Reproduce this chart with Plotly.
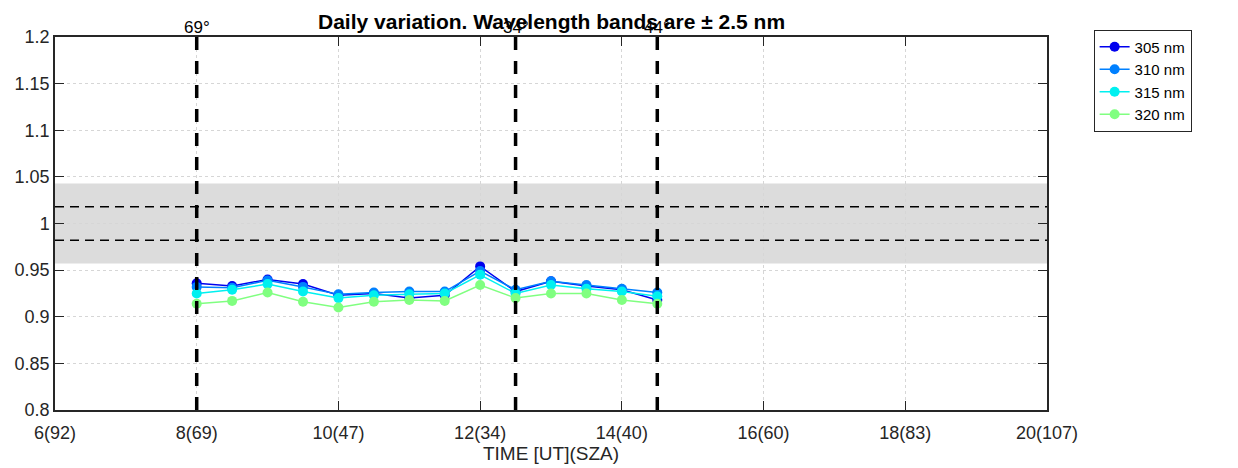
import plotly.graph_objects as go

# ---- data ----
times = [8.0, 8.5, 9.0, 9.5, 10.0, 10.5, 11.0, 11.5, 12.0, 12.5, 13.0, 13.5, 14.0, 14.5]
r305 = [0.936, 0.933, 0.940, 0.935, 0.923, 0.925, 0.920, 0.923, 0.954, 0.927, 0.938, 0.933, 0.929, 0.918]
r310 = [0.932, 0.931, 0.939, 0.932, 0.924, 0.926, 0.927, 0.927, 0.949, 0.929, 0.938, 0.934, 0.930, 0.926]
r315 = [0.925, 0.929, 0.935, 0.927, 0.920, 0.923, 0.924, 0.925, 0.945, 0.925, 0.934, 0.930, 0.927, 0.922]
r320 = [0.914, 0.917, 0.926, 0.916, 0.910, 0.916, 0.918, 0.917, 0.934, 0.920, 0.925, 0.925, 0.918, 0.914]

series_names = ["305 nm", "310 nm", "315 nm", "320 nm"]
series_colors = ["#0000ee", "#0080ff", "#00f0f0", "#80ff80"]

x_ticks = [6, 8, 10, 12, 14, 16, 18, 20]
x_tick_labels = ["6(92)", "8(69)", "10(47)", "12(34)", "14(40)", "16(60)", "18(83)", "20(107)"]
y_ticks = [0.8, 0.85, 0.9, 0.95, 1.0, 1.05, 1.1, 1.15, 1.2]
y_tick_labels = ["0.8", "0.85", "0.9", "0.95", "1", "1.05", "1.1", "1.15", "1.2"]

band_lo, band_hi = 0.957, 1.043
inner_lo, inner_hi = 0.982, 1.018
vline_times = [8.0, 12.5, 14.5]
vline_labels = ["69°", "34°", "44°"]

FONT = "Liberation Sans, Arial, Helvetica, sans-serif"
AX = "#262626"

fig = go.Figure()
for name, col, vals in zip(series_names, series_colors, [r305, r310, r315, r320]):
    fig.add_trace(go.Scatter(
        x=times, y=vals, name=name, mode="lines+markers",
        line=dict(color=col, width=1.5),
        marker=dict(color=col, size=10),
    ))

shapes = []
shapes.append(dict(type="rect", xref="paper", yref="y", x0=0, x1=1, y0=band_lo, y1=band_hi,
                   fillcolor="#dcdcdc", line=dict(width=0), layer="between"))
for yv in [inner_lo, inner_hi]:
    shapes.append(dict(type="line", xref="paper", yref="y", x0=0, x1=1, y0=yv, y1=yv,
                       line=dict(color="black", width=1.5, dash="9px,6px"), layer="between"))
for xv in vline_times:
    shapes.append(dict(type="line", xref="x", yref="paper", x0=xv, x1=xv, y0=0, y1=1,
                       line=dict(color="black", width=3.5, dash="13px,11px"), layer="above"))

annotations = []
for xv, lab in zip(vline_times, vline_labels):
    annotations.append(dict(x=xv, y=1, xref="x", yref="paper", text=lab, showarrow=False,
                            yanchor="bottom", xanchor="center", yshift=-2,
                            font=dict(size=17, color="black", family=FONT)))
annotations.append(dict(x=0.5, y=1, xref="paper", yref="paper",
                        text="<b>Daily variation. Wavelength bands are ± 2.5 nm</b>",
                        showarrow=False, yanchor="bottom", xanchor="center", yshift=2,
                        font=dict(size=21, color="black", family=FONT)))

fig.update_layout(
    width=1238, height=468,
    margin=dict(l=47, r=199, t=29, b=66),
    paper_bgcolor="white", plot_bgcolor="white",
    font=dict(family=FONT, size=18, color=AX),
    shapes=shapes, annotations=annotations,
    showlegend=True,
    legend=dict(x=1.047, y=1.02, xanchor="left", yanchor="top",
                bordercolor=AX, borderwidth=1, bgcolor="white",
                font=dict(size=15, color="black", family=FONT),
                tracegroupgap=0),
)
fig.update_xaxes(
    range=[6, 20], tickmode="array", tickvals=x_ticks, ticktext=x_tick_labels,
    showgrid=True, gridcolor="#d6d6d6", griddash="dot", gridwidth=1,
    showline=True, linecolor=AX, linewidth=1.5, mirror="ticks",
    ticks="inside", ticklen=9, tickcolor=AX, zeroline=False, automargin=False,
    ticklabelstandoff=6,
    title=dict(text="TIME [UT](SZA)", standoff=0, font=dict(size=19, color=AX)),
    tickfont=dict(size=18, color=AX),
)
fig.update_yaxes(
    range=[0.8, 1.2], tickmode="array", tickvals=y_ticks, ticktext=y_tick_labels,
    showgrid=True, gridcolor="#d6d6d6", griddash="dot", gridwidth=1,
    showline=True, linecolor=AX, linewidth=1.5, mirror="ticks",
    ticks="inside", ticklen=9, tickcolor=AX, zeroline=False, automargin=False,
    tickfont=dict(size=18, color=AX),
)

fig.write_html("out.html")
